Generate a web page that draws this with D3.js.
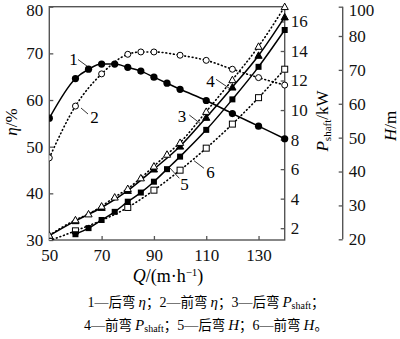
<!DOCTYPE html>
<html><head><meta charset="utf-8">
<script src="https://cdn.jsdelivr.net/npm/d3@7"></script>
<style>body{margin:0;background:#fff}svg{display:block}</style>
</head><body>
<svg id="c" width="400" height="339"></svg>
<script>
// ---- data ----
const qEta1 = [50,60,65,70,75,80,85,90,95,100,110,120,130,140];
const eta1  = [56.1,64.6,66.6,67.7,67.7,67.0,66.2,64.9,63.6,62.3,59.9,57.1,54.4,51.7];
const qEta2 = [50,60,70,80,85,90,100,110,120,130,140];
const eta2  = [47.6,58.7,65.6,69.8,70.3,70.3,69.6,68.5,66.6,64.8,63.2];
const qP3 = [50,60,70,80,90,100,110,120,130,140];
const p3  = [1.5,2.5,3.4,4.55,6.0,7.55,9.5,11.55,13.7,16.3];
const qP4 = [50,60,65,70,75,80,85,90,95,100,110,120,130,140];
const p4  = [1.52,2.56,2.96,3.49,4.10,4.68,5.4,6.2,7.0,7.8,9.9,12.05,14.31,17.0];
const qH5 = [60,65,70,75,80,85,90,95,100,110,120,130,140];
const h5  = [21.5,23.3,25.7,28.1,31.1,33.8,37.0,40.7,44.4,52.3,61.3,70.9,84.1];
const qH6 = [50,60,80,90,100,110,120,130,140];
const h6  = [19.6,22.5,29.4,34.5,40.4,46.9,54.0,61.8,70.2];
const xTicks = [50,70,90,110,130];
const etaTicks = [30,40,50,60,70,80];
const pTicks = [2,4,6,8,10,12,14,16];
const hTicks = [20,30,40,50,60,70,80,100];

const svg = d3.select("#c");
const L=49.3, R=284.7, T=6.7, B=240, HX=342.7;
const x = d3.scaleLinear().domain([50,140]).range([L,R]);
const yEta = d3.scaleLinear().domain([30,80]).range([B,T]);
const yP = d3.scaleLinear().domain([1.2,17]).range([B,T]);
const yH = d3.scaleLinear().domain([20,80,100]).range([239.3,36,T]);
const serif = "'Liberation Serif','Times New Roman',serif";
const axCol = "#555";

svg.append("defs").append("clipPath").attr("id","clip")
  .append("rect").attr("x",L).attr("y",T-6).attr("width",R-L+6).attr("height",B-T+6);

// frame
svg.append("rect").attr("x",L).attr("y",T).attr("width",R-L).attr("height",B-T)
  .attr("fill","none").attr("stroke",axCol).attr("stroke-width",1.4);

function styleAxis(scale){
  return g=>{
    g.select(".domain").remove();
    g.selectAll("line").attr("stroke",axCol).attr("stroke-width",1.3);
    g.selectAll("text").attr("font-family",serif).attr("font-size",17).attr("fill","#111");
    // keep the topmost labels inside the page
    g.selectAll(".tick").filter(d=>scale(d)<10).select("text").attr("dy","0.5em");
  };
}
// x axis (ticks inside)
svg.append("g").attr("transform",`translate(0,${B})`)
  .call(d3.axisBottom(x).tickValues(xTicks).tickSizeInner(-4).tickSizeOuter(0).tickPadding(9))
  .call(styleAxis(()=>100));
// left eta axis
svg.append("g").attr("transform",`translate(${L},0)`)
  .call(d3.axisLeft(yEta).tickValues(etaTicks).tickSizeInner(-4).tickSizeOuter(0).tickPadding(6))
  .call(styleAxis(yEta));
// P axis on right of frame
svg.append("g").attr("transform",`translate(${R},0)`)
  .call(d3.axisRight(yP).tickValues(pTicks).tickSizeInner(-4).tickSizeOuter(0).tickPadding(6))
  .call(styleAxis(yP));
// H axis
const gH = svg.append("g").attr("transform",`translate(${HX},0)`)
  .call(d3.axisRight(yH).tickValues(hTicks).tickFormat(d3.format("d")).tickSizeInner(-4).tickSizeOuter(0).tickPadding(6))
  .call(styleAxis(yH));
gH.append("line").attr("x1",0).attr("x2",0).attr("y1",T).attr("y2",239.3)
  .attr("stroke",axCol).attr("stroke-width",1.4);

// series
const plot = svg.append("g").attr("clip-path","url(#clip)");
function series(qs, vs, yS, dotted, marker){
  const pts = qs.map((q,i)=>[x(q), yS(vs[i])]);
  plot.append("path").attr("d", d3.line().curve(d3.curveMonotoneX)(pts))
    .attr("fill","none").attr("stroke","#000")
    .attr("stroke-width", dotted?1.6:1.5)
    .attr("stroke-dasharray", dotted?"0.8,3":null)
    .attr("stroke-linecap", dotted?"round":"butt");
  const g = plot.append("g");
  pts.forEach(p=>{
    if(marker==="fc") g.append("circle").attr("cx",p[0]).attr("cy",p[1]).attr("r",3.6).attr("fill","#000");
    else if(marker==="oc") g.append("circle").attr("cx",p[0]).attr("cy",p[1]).attr("r",3).attr("fill","#fff").attr("stroke","#000").attr("stroke-width",1);
    else if(marker==="fs") g.append("rect").attr("x",p[0]-3).attr("y",p[1]-3).attr("width",6).attr("height",6).attr("fill","#000");
    else if(marker==="os") g.append("rect").attr("x",p[0]-3).attr("y",p[1]-3).attr("width",6).attr("height",6).attr("fill","#fff").attr("stroke","#000").attr("stroke-width",1);
    else {
      const s=3.6;
      g.append("path").attr("d",`M${p[0]},${p[1]-s}L${p[0]+s},${p[1]+s*0.8}L${p[0]-s},${p[1]+s*0.8}Z`)
        .attr("fill", marker==="ft"?"#000":"#fff").attr("stroke","#000").attr("stroke-width",1);
    }
  });
}
series(qH6,h6,yH,true,"os");
series(qH5,h5,yH,false,"fs");
series(qP3,p3,yP,false,"ft");
series(qP4,p4,yP,true,"ot");
series(qEta2,eta2,yEta,true,"oc");
series(qEta1,eta1,yEta,false,"fc");

// numbered labels with leaders
const labels = [
  ["1",73.5,65,[78,59.5,87.5,66.5]],
  ["2",94.5,123,[81,108,88,114]],
  ["3",182,122,[189.3,115,200,123.3]],
  ["4",210.5,87,[216,79.3,229.3,88.3]],
  ["5",184.5,190,[169.3,167.3,179.3,178.3]],
  ["6",210.5,178,[194,160.7,204,168.3]]
];
labels.forEach(l=>{
  svg.append("line").attr("x1",l[3][0]).attr("y1",l[3][1]).attr("x2",l[3][2]).attr("y2",l[3][3])
    .attr("stroke","#000").attr("stroke-width",0.8);
  svg.append("text").attr("x",l[1]).attr("y",l[2]).attr("text-anchor","middle")
    .attr("font-family",serif).attr("font-size",17).text(l[0]);
});

// axis titles
const tx = svg.append("text").attr("x",168).attr("y",282).attr("text-anchor","middle")
  .attr("font-family",serif).attr("font-size",18);
tx.append("tspan").attr("font-style","italic").text("Q");
tx.append("tspan").text("/(m·h");
tx.append("tspan").attr("dy",-6).attr("font-size",11).text("−1");
tx.append("tspan").attr("dy",6).text(")");

const te = svg.append("text").attr("transform","translate(17,122) rotate(-90)").attr("text-anchor","middle")
  .attr("font-family",serif).attr("font-size",17);
te.append("tspan").attr("font-style","italic").text("η");
te.append("tspan").text("/%");

const tp = svg.append("text").attr("transform","translate(328,121) rotate(-90)").attr("text-anchor","middle")
  .attr("font-family",serif).attr("font-size",17);
tp.append("tspan").attr("font-style","italic").text("P");
tp.append("tspan").attr("font-size",11).attr("dy",3).text("shaft");
tp.append("tspan").attr("dy",-3).text("/kW");

const th = svg.append("text").attr("transform","translate(396,126) rotate(-90)").attr("text-anchor","middle")
  .attr("font-family",serif).attr("font-size",17);
th.append("tspan").attr("font-style","italic").text("H");
th.append("tspan").text("/m");

// caption
const cjk = "'Noto Sans CJK SC',sans-serif";
function cap(y, parts){
  const t = svg.append("text").attr("x",206).attr("y",y).attr("text-anchor","middle")
    .attr("font-size",14).attr("font-family",serif);
  parts.forEach(p=>{
    const s = t.append("tspan").text(p[0]);
    if(p[1]==="c") s.attr("font-family",cjk).attr("font-size",13.5);
    if(p[1]==="i") s.attr("font-style","italic").attr("font-size",15);
    if(p[1]==="sub") s.attr("font-size",10).attr("dy",2);
  });
  return t;
}
const c1 = cap(307, [["1—",""],["后弯 ","c"],["η","i"],["；","c"],["2—",""],["前弯 ","c"],["η","i"],["；","c"],["3—",""],["后弯 ","c"],["P","i"],["shaft","sub"],["；","c"]]);
const c2 = cap(330, [["4—",""],["前弯 ","c"],["P","i"],["shaft","sub"],["；","c"],["5—",""],["后弯 ","c"],["H","i"],["；","c"],["6—",""],["前弯 ","c"],["H","i"],["。","c"]]);
// return to baseline after subscripts
[c1,c2].forEach(t=>{
  t.selectAll("tspan").each(function(){
    const prev = this.previousSibling;
    if(prev && prev.getAttribute && prev.getAttribute("dy")==="2" && !this.getAttribute("dy")) this.setAttribute("dy",-2);
  });
});
</script>
</body></html>
